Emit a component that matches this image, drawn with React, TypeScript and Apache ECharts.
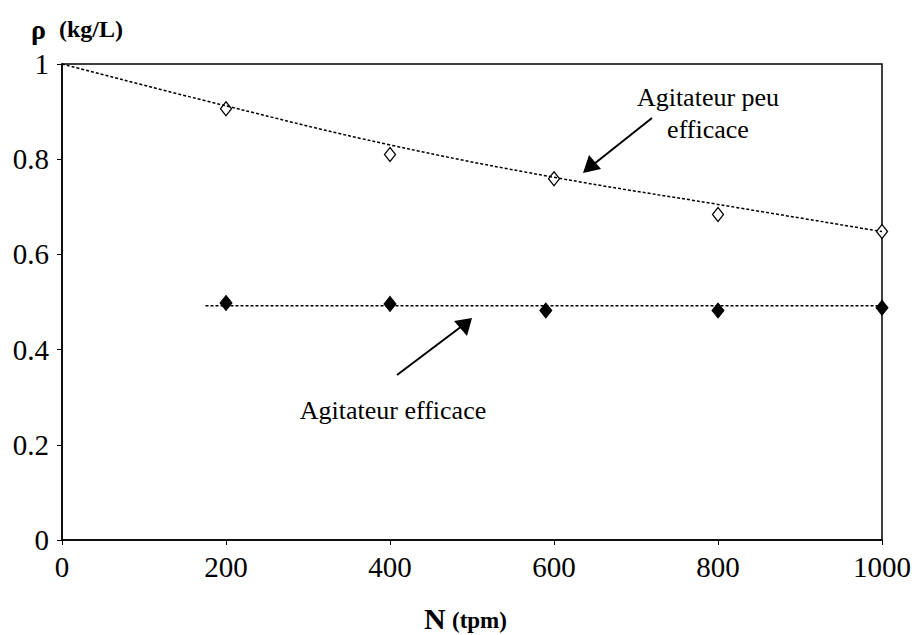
import React, { useEffect, useRef } from "react";
import * as echarts from "echarts";

// Agitateur peu efficace (open diamonds)
const peuX = [200, 400, 600, 800, 1000];
const peuY = [0.906, 0.81, 0.759, 0.684, 0.648];
// Trend line for the less efficient stirrer
const peuTrendX = [0, 200, 400, 600, 800, 1000];
const peuTrendY = [1.0, 0.912, 0.83, 0.762, 0.705, 0.648];

// Agitateur efficace (filled diamonds)
const effX = [200, 400, 590, 800, 1000];
const effY = [0.498, 0.496, 0.482, 0.482, 0.488];
const effTrendX = [175, 1000];
const effTrendY = [0.492, 0.492];

const xTicks = [0, 200, 400, 600, 800, 1000];
const yTicks = [0, 0.2, 0.4, 0.6, 0.8, 1];

const SERIF = "Liberation Serif";

const zip = (xs: number[], ys: number[]) => xs.map((x, i) => [x, ys[i]]);

export default function App() {
  const ref = useRef<HTMLDivElement>(null);
  useEffect(() => {
    if (!ref.current) return;
    const chart = echarts.init(ref.current, undefined, { renderer: "svg" });
    const axisCommon = {
      axisLine: { show: true, lineStyle: { color: "#000", width: 1.5 } },
      axisTick: { show: true, inside: false, length: 5, lineStyle: { color: "#000", width: 1 } },
      splitLine: { show: false },
    };
    const txt = (text: string, x: number, y: number, size: number, bold: boolean, align = "left") => ({
      type: "text",
      x,
      y,
      style: {
        text,
        fontFamily: SERIF,
        fontSize: size,
        fontWeight: bold ? "bold" : "normal",
        fill: "#000",
        align,
        verticalAlign: "middle",
      },
    });
    chart.setOption({
      animation: false,
      backgroundColor: "#fff",
      grid: {
        left: 62,
        top: 64,
        width: 820,
        height: 476,
        show: true,
        borderColor: "#000",
        borderWidth: 1.5,
        backgroundColor: "transparent",
      },
      xAxis: {
        type: "value",
        min: xTicks[0],
        max: xTicks[xTicks.length - 1],
        interval: 200,
        ...axisCommon,
        axisLabel: {
          color: "#000",
          fontFamily: SERIF,
          fontSize: 29,
          margin: 12,
          showMinLabel: true,
          showMaxLabel: true,
          formatter: (v: number) => String(v),
        },
      },
      yAxis: {
        type: "value",
        min: yTicks[0],
        max: yTicks[yTicks.length - 1],
        interval: 0.2,
        ...axisCommon,
        axisLabel: {
          color: "#000",
          fontFamily: SERIF,
          fontSize: 29,
          margin: 13,
          formatter: (v: number) => String(Math.round(v * 10) / 10),
        },
      },
      series: [
        {
          type: "scatter",
          data: zip(peuX, peuY),
          symbol: "diamond",
          symbolSize: [11, 14],
          itemStyle: { color: "#fff", borderColor: "#000", borderWidth: 1.3, opacity: 1 },
          z: 2,
        },
        {
          type: "scatter",
          data: zip(effX, effY),
          symbol: "diamond",
          symbolSize: [12, 15],
          itemStyle: { color: "#000", borderColor: "#000", borderWidth: 1, opacity: 1 },
          z: 2,
        },
        {
          type: "line",
          data: zip(peuTrendX, peuTrendY),
          smooth: 0.4,
          showSymbol: false,
          symbol: "none",
          lineStyle: { color: "#000", width: 1.5, type: [3, 2] },
          z: 3,
        },
        {
          type: "line",
          data: zip(effTrendX, effTrendY),
          showSymbol: false,
          symbol: "none",
          lineStyle: { color: "#000", width: 1.5, type: [3, 2] },
          z: 3,
        },
      ],
      graphic: [
        // Y axis title
        txt("ρ", 31, 29, 28, true),
        txt("(kg/L)", 59, 29, 24, true),
        // X axis title
        txt("N", 424, 618, 30, true),
        txt("(tpm)", 452, 620, 23, true),
        // Annotations
        txt("Agitateur peu", 708, 97, 26, false, "center"),
        txt("efficace", 708, 129, 26, false, "center"),
        txt("Agitateur efficace", 393, 410, 26, false, "center"),
        // Arrow 1
        {
          type: "line",
          shape: { x1: 652, y1: 118, x2: 594, y2: 164 },
          style: { stroke: "#000", lineWidth: 2 },
        },
        {
          type: "polygon",
          shape: { points: [[583, 173], [589, 155], [601, 169]] },
          style: { fill: "#000" },
        },
        // Arrow 2
        {
          type: "line",
          shape: { x1: 397, y1: 375, x2: 462, y2: 326 },
          style: { stroke: "#000", lineWidth: 2 },
        },
        {
          type: "polygon",
          shape: { points: [[472, 318], [467, 336], [454, 321]] },
          style: { fill: "#000" },
        },
      ],
    });
    return () => chart.dispose();
  }, []);
  return (
    <div
      ref={ref}
      style={{ position: "fixed", left: 0, top: 0, width: 921, height: 635, background: "#fff" }}
    />
  );
}
